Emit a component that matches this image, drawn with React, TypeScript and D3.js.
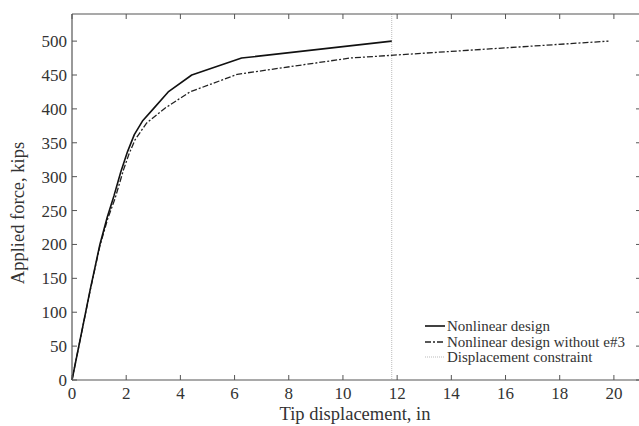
import React from "react";
import * as d3 from "d3";

const solidX = [0, 0.67, 1.03, 1.3, 1.55, 1.8, 2.05, 2.3, 2.6, 3.0, 3.55, 4.42, 6.26, 11.8];
const solidY = [0, 133, 200, 240, 272, 307, 337, 362, 382, 400, 425, 450, 475, 500];
const dashX = [0, 0.67, 1.03, 1.32, 1.59, 1.9, 2.1, 2.32, 2.75, 3.43, 4.35, 6.1, 10.25, 19.8];
const dashY = [0, 132, 198, 238, 268, 310, 333, 354, 379, 401, 425, 451, 475, 500];
const constraintX = 11.8;
const xTicks = [0, 2, 4, 6, 8, 10, 12, 14, 16, 18, 20];
const yTicks = [0, 50, 100, 150, 200, 250, 300, 350, 400, 450, 500];
const legendLabels = ["Nonlinear design", "Nonlinear design without e#3", "Displacement constraint"];

export default function App() {
  const W = 639, H = 426;
  const left = 72, right = 641, top = 14, bottom = 380;
  const x = d3.scaleLinear().domain([0, 21]).range([left, right]);
  const y = d3.scaleLinear().domain([0, 540]).range([bottom, top]);
  const line = d3.line<[number, number]>().x(d => x(d[0])).y(d => y(d[1]));
  const solid = solidX.map((v, i) => [v, solidY[i]] as [number, number]);
  const dash = dashX.map((v, i) => [v, dashY[i]] as [number, number]);
  const axisColor = "#555";
  const font = "'Liberation Serif', 'Times New Roman', serif";
  const legendY = [326, 342, 357];
  return (
    <svg width={W} height={H} style={{ position: "absolute", left: 0, top: 0, background: "#fff" }} fontFamily={font}>
      <rect x={0} y={0} width={W} height={H} fill="#fff" />
      <line x1={x(constraintX)} x2={x(constraintX)} y1={top} y2={bottom} stroke="#bbb" strokeWidth={1} strokeDasharray="1,1" />
      <path d={line(dash) || ""} fill="none" stroke="#222" strokeWidth={1.3} strokeDasharray="6,2,2,2" />
      <path d={line(solid) || ""} fill="none" stroke="#111" strokeWidth={1.6} strokeLinejoin="round" />
      <line x1={left} x2={right} y1={bottom} y2={bottom} stroke={axisColor} strokeWidth={1.2} />
      <line x1={left} x2={right} y1={top} y2={top} stroke={axisColor} strokeWidth={1.2} />
      <line x1={left} x2={left} y1={top} y2={bottom} stroke={axisColor} strokeWidth={1.2} />
      <line x1={right} x2={right} y1={top} y2={bottom} stroke={axisColor} strokeWidth={1.2} />
      {xTicks.map(t => (
        <g key={"x" + t}>
          <line x1={x(t)} x2={x(t)} y1={bottom} y2={bottom - 5} stroke={axisColor} />
          <line x1={x(t)} x2={x(t)} y1={top} y2={top + 5} stroke={axisColor} />
          <text x={x(t)} y={bottom + 19} textAnchor="middle" fontSize={17} fill="#333">{t}</text>
        </g>
      ))}
      {yTicks.map(t => (
        <g key={"y" + t}>
          <line x1={left} x2={left + 5} y1={y(t)} y2={y(t)} stroke={axisColor} />
          <line x1={right} x2={right - 5} y1={y(t)} y2={y(t)} stroke={axisColor} />
          <text x={left - 5} y={y(t) + 6} textAnchor="end" fontSize={17} fill="#333">{t}</text>
        </g>
      ))}
      <text x={355} y={420} textAnchor="middle" fontSize={18.5} fill="#333">Tip displacement, in</text>
      <text transform={`translate(24,${(top + bottom) / 2 + 16}) rotate(-90)`} textAnchor="middle" fontSize={18.5} fill="#333">Applied force, kips</text>
      <line x1={425} x2={445} y1={legendY[0]} y2={legendY[0]} stroke="#111" strokeWidth={1.6} />
      <line x1={425} x2={445} y1={legendY[1]} y2={legendY[1]} stroke="#222" strokeWidth={1.3} strokeDasharray="6,2,2,2" />
      <line x1={425} x2={445} y1={legendY[2]} y2={legendY[2]} stroke="#bbb" strokeWidth={1} strokeDasharray="1,1" />
      {legendLabels.map((l, i) => (
        <text key={l} x={447} y={legendY[i] + 5} fontSize={15} fill="#333">{l}</text>
      ))}
    </svg>
  );
}
